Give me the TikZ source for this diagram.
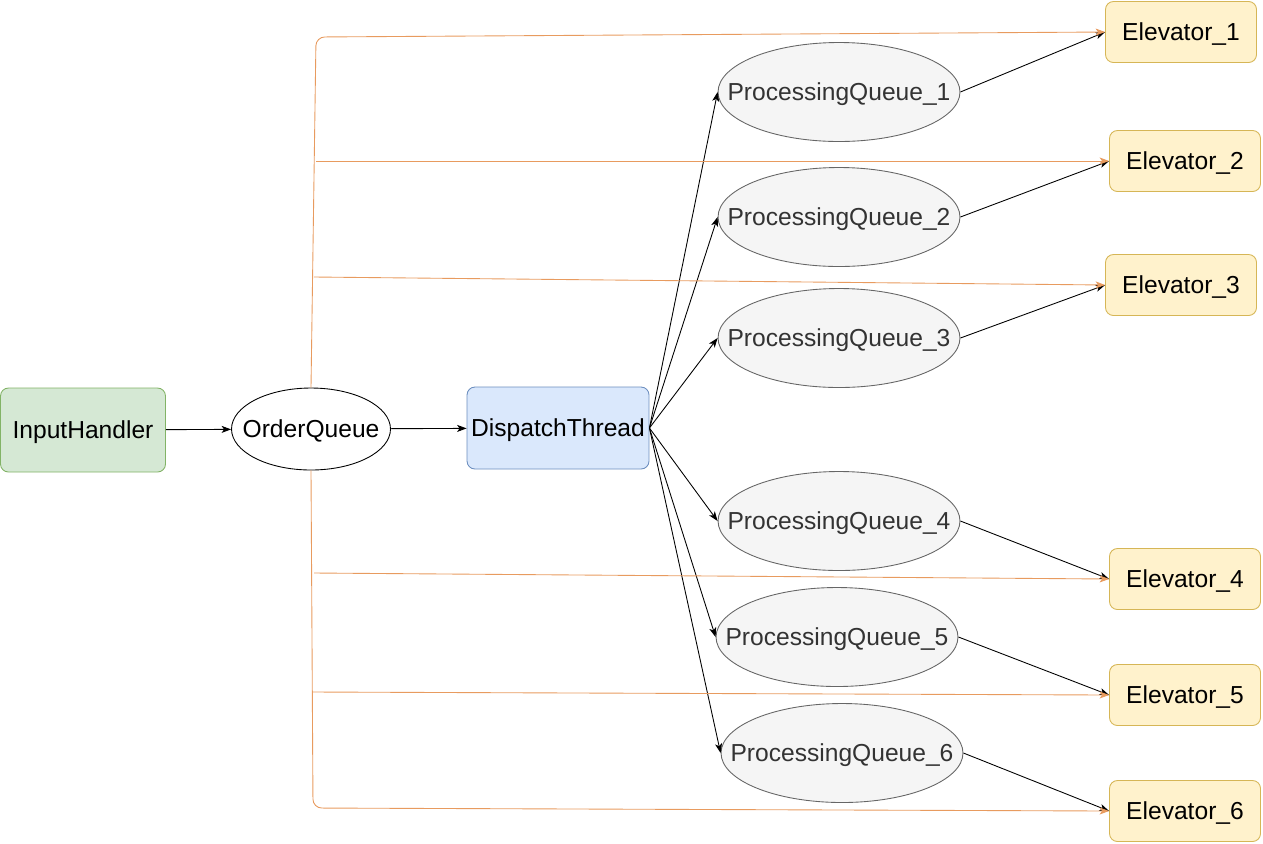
\documentclass[tikz,border=0pt]{standalone}
\usepackage{fontspec}
\setmainfont{Liberation Sans}
\usepackage{xcolor}
\usepackage{tikz}
\usetikzlibrary{arrows,arrows.meta,positioning,shapes.geometric}

\definecolor{inFill}{HTML}{D5E8D4}
\definecolor{inDraw}{HTML}{82B366}
\definecolor{dispFill}{HTML}{DAE8FC}
\definecolor{dispDraw}{HTML}{6C8EBF}
\definecolor{elevFill}{HTML}{FFF2CC}
\definecolor{elevDraw}{HTML}{D6B656}
\definecolor{pqFill}{HTML}{F5F5F5}
\definecolor{pqDraw}{HTML}{666666}
\definecolor{pqText}{HTML}{333333}
\definecolor{orderLine}{RGB}{232,155,95}

\begin{document}
\begin{tikzpicture}[
  x=0.02cm, y=-0.02cm,
  font=\fontsize{14}{17}\selectfont,
  every node/.style={text depth=0pt},
  block/.style={draw, rounded corners=4.5pt, align=center, inner sep=0pt, line width=0.5pt},
  input/.style={block, fill=inFill, draw=inDraw, minimum width=3.3cm, minimum height=1.68cm},
  disp/.style={block, fill=dispFill, draw=dispDraw, minimum width=3.64cm, minimum height=1.64cm},
  elev/.style={block, fill=elevFill, draw=elevDraw, minimum width=3.02cm, minimum height=1.22cm},
  queue/.style={ellipse, draw, inner ysep=0pt, inner xsep=-0.3cm, line width=0.5pt, minimum width=3.18cm, minimum height=1.64cm},
  pq/.style={queue, fill=pqFill, draw=pqDraw, text=pqText, inner xsep=-0.6cm, minimum width=4.84cm, minimum height=1.98cm},
  arrow/.style={-{Stealth[length=1.9mm,width=1.4mm,inset=0.5mm]}, line width=0.5pt},
  order/.style={arrow, draw=orderLine, rounded corners=5pt},
]

\useasboundingbox (0,0) rectangle (1263,843);

\node[input] (input) at (83,430) {InputHandler};
\node[queue] (oq) at (311,429) {OrderQueue};
\node[disp] (disp) at (558,428) {DispatchThread};

\node[pq] (pq1) at (839,92) {ProcessingQueue\_1};
\node[pq] (pq2) at (839,217) {ProcessingQueue\_2};
\node[pq] (pq3) at (839,338) {ProcessingQueue\_3};
\node[pq] (pq4) at (839,521) {ProcessingQueue\_4};
\node[pq] (pq5) at (837,637) {ProcessingQueue\_5};
\node[pq] (pq6) at (842,753) {ProcessingQueue\_6};

\node[elev] (e1) at (1181,32) {Elevator\_1};
\node[elev] (e2) at (1185,161) {Elevator\_2};
\node[elev] (e3) at (1181,285) {Elevator\_3};
\node[elev] (e4) at (1185,579) {Elevator\_4};
\node[elev] (e5) at (1185,695) {Elevator\_5};
\node[elev] (e6) at (1185,811) {Elevator\_6};

\draw[arrow] (input) -- (oq);
\draw[arrow] (oq) -- (disp);

\foreach \i in {1,...,6} {
  \draw[arrow] (disp.east) -- (pq\i.west);
  \draw[arrow] (pq\i.east) -- (e\i.west);
}

\coordinate (topturn) at (316,37);
\coordinate (b2) at (316,161);
\coordinate (b3) at (314,277);
\coordinate (b4) at (314,573);
\coordinate (b5) at (313,692);
\coordinate (botturn) at (313,808);

\draw[order] (oq.north) -- (topturn) -- (e1.west);
\draw[order] (b2) -- (e2.west);
\draw[order] (b3) -- (e3.west);
\draw[order] (b4) -- (e4.west);
\draw[order] (b5) -- (e5.west);
\draw[order] (oq.south) -- (botturn) -- (e6.west);

\end{tikzpicture}
\end{document}
